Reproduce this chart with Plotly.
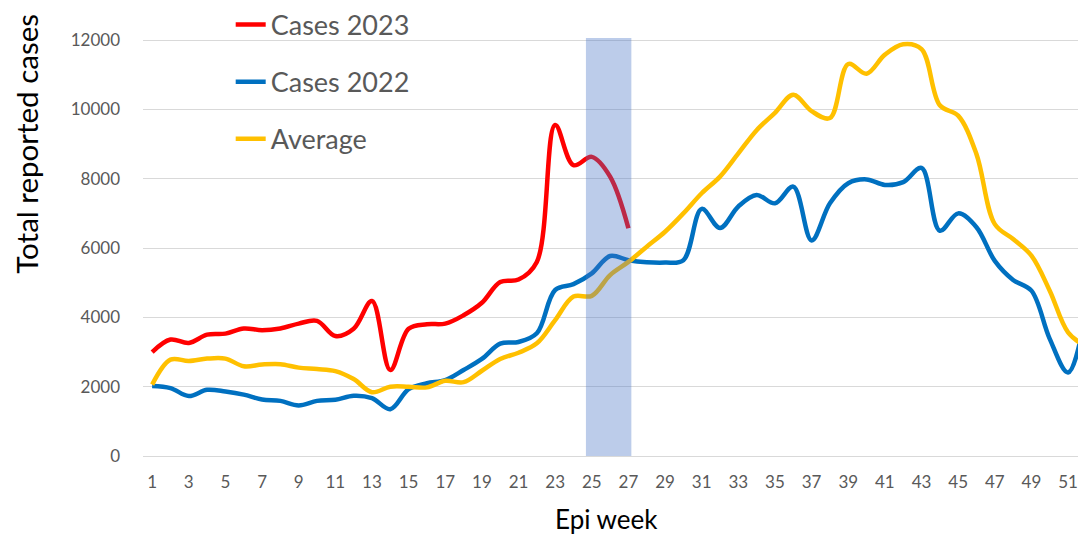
import plotly.graph_objects as go

weeks = list(range(1, 53))
tick_weeks = list(range(1, 52, 2))
y_ticks = [0, 2000, 4000, 6000, 8000, 10000, 12000]

cases_2023 = [3000, 3360, 3260, 3500, 3530, 3680, 3630, 3680, 3820, 3900,
              3460, 3670, 4470, 2480, 3670, 3800, 3820, 4060, 4420, 5020,
              5090, 5600, 9550, 8390, 8630, 8060, 6570]

cases_2022 = [2020, 1960, 1730, 1910, 1860, 1770, 1630, 1590, 1460, 1590,
              1620, 1740, 1670, 1350, 1930, 2100, 2190, 2480, 2800, 3240,
              3290, 3540, 4790, 4960, 5270, 5770, 5650, 5590, 5580, 5650,
              7130, 6580, 7200, 7530, 7290, 7770, 6220, 7290, 7870, 7980,
              7820, 7900, 8310, 6500, 7000, 6600, 5630, 5080, 4770, 3380,
              2410, 4200]

average = [2060, 2780, 2740, 2810, 2810, 2590, 2640, 2650, 2550, 2510,
           2450, 2220, 1840, 2000, 2000, 1980, 2170, 2130, 2460, 2800,
           2980, 3250, 3920, 4600, 4620, 5220, 5600, 6040, 6470, 7000,
           7580, 8060, 8730, 9400, 9900, 10420, 9950, 9750, 11310, 11030,
           11580, 11880, 11740, 10120, 9820, 8710, 6690, 6260, 5780, 4770,
           3570, 3150]

highlight_weeks = [24.68, 27.16]
highlight_top = 12060

series = [
    ("Cases 2023", cases_2023, "#FF0000"),
    ("Cases 2022", cases_2022, "#0070C0"),
    ("Average", average, "#FFC000"),
]

fig = go.Figure()
for name, vals, color in series:
    fig.add_trace(go.Scatter(
        x=weeks[:len(vals)], y=vals, name=name, mode="lines",
        line=dict(color=color, width=4.5, shape="spline", smoothing=1.0),
        legendgroup=name,
    ))

fig.add_shape(type="rect", xref="x", yref="y",
              x0=highlight_weeks[0], x1=highlight_weeks[1], y0=0, y1=highlight_top,
              fillcolor="rgba(68,114,196,0.36)", line=dict(width=0), layer="above")

tick_font = dict(family="Lato", size=17, color="#595959")

fig.update_layout(
    width=1078, height=529,
    margin=dict(l=135, r=0, t=30, b=81, autoexpand=False),
    paper_bgcolor="white", plot_bgcolor="white",
    font=dict(family="Lato", size=17, color="#595959"),
    showlegend=True,
    legend=dict(
        x=0.093, y=1.0896, xanchor="left", yanchor="top",
        font=dict(family="Lato", size=27, color="#595959"),
        bgcolor="rgba(0,0,0,0)", tracegroupgap=19, itemwidth=30,
    ),
    xaxis=dict(
        range=[0.5, 51.98], tickmode="array", tickvals=tick_weeks,
        ticktext=[str(w) for w in tick_weeks], tickfont=tick_font,
        showgrid=False, zeroline=False, showline=False, ticks="",
        ticklabelstandoff=14,
    ),
    yaxis=dict(
        range=[0, 12060], tickmode="array", tickvals=y_ticks,
        ticktext=[str(v) for v in y_ticks],
        tickfont=tick_font, showgrid=True, gridcolor="#D9D9D9", gridwidth=1.3,
        zeroline=True, zerolinecolor="#D9D9D9", zerolinewidth=1.3,
        showline=False, ticks="", ticklabelstandoff=22,
    ),
    annotations=[
        dict(text="Total reported cases", xref="paper", yref="paper",
             x=-0.1235, y=0.746, xanchor="center", yanchor="middle",
             textangle=-90, showarrow=False,
             font=dict(family="Lato", size=29.5, color="#000000")),
        dict(text="Epi week", xref="paper", yref="paper",
             x=0.492, y=-0.1507, xanchor="center", yanchor="middle",
             showarrow=False,
             font=dict(family="Lato", size=26, color="#000000")),
    ],
)

fig.write_html("out.html")
